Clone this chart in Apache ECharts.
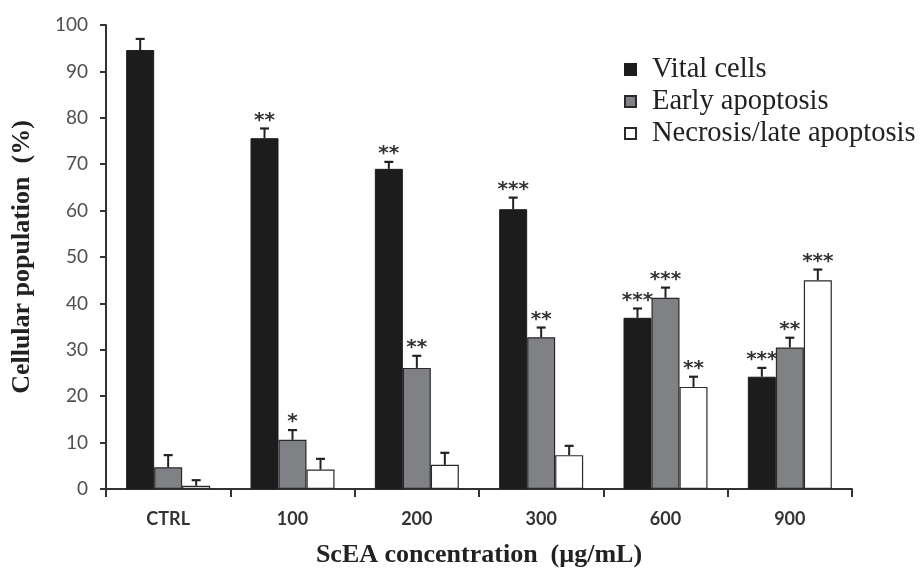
<!DOCTYPE html>
<html>
<head>
<meta charset="utf-8">
<script src="https://cdn.jsdelivr.net/npm/echarts@6/dist/echarts.min.js"></script>
<style>
  html, body { margin: 0; padding: 0; background: #fff; }
  #chart { width: 920px; height: 573px; }
</style>
</head>
<body>
<div id="chart"></div>
<script>
// Cell population by ScEA concentration (mean with upper SD bar and significance marks)
const categories = ['CTRL', '100', '200', '300', '600', '900'];

const vital = [94.6, 75.6, 69.0, 60.3, 36.9, 24.2];
const vitalErr = [2.4, 2.1, 1.5, 2.5, 2.0, 1.9];
const vitalSig = ['', '**', '**', '***', '***', '***'];

const early = [4.7, 10.6, 26.1, 32.7, 41.2, 30.5];
const earlyErr = [2.6, 2.1, 2.6, 2.1, 2.2, 2.1];
const earlySig = ['', '*', '**', '**', '***', '**'];

const necrosis = [0.7, 4.2, 5.2, 7.3, 22.0, 45.0];
const necrosisErr = [1.2, 2.3, 2.6, 2.0, 2.2, 2.3];
const necrosisSig = ['', '', '', '', '**', '***'];

const seriesNames = ['Vital cells', 'Early apoptosis', 'Necrosis/late apoptosis'];
const yTicks = [0, 10, 20, 30, 40, 50, 60, 70, 80, 90, 100];

const BAR_W = 28;
const INK = '#222';

function errorSeries(values, errs, sigs, slot) {
  return {
    type: 'custom',
    z: 5,
    silent: true,
    data: values.map((v, i) => [i, v, errs[i]]),
    renderItem: function (params, api) {
      const i = api.value(0);
      const v = api.value(1);
      const e = api.value(2);
      const base = api.coord([i, v]);
      const top = api.coord([i, v + e]);
      const cx = base[0] + slot * BAR_W;
      const children = [
        { type: 'line', shape: { x1: cx, y1: base[1], x2: cx, y2: top[1] },
          style: { stroke: INK, lineWidth: 2 } },
        { type: 'line', shape: { x1: cx - 4.5, y1: top[1], x2: cx + 4.5, y2: top[1] },
          style: { stroke: INK, lineWidth: 2.2 } }
      ];
      const s = sigs[params.dataIndex];
      if (s) {
        children.push({
          type: 'text',
          style: {
            x: cx, y: top[1] - 8, text: s,
            align: 'center', verticalAlign: 'middle',
            font: 'bold 20px "DejaVu Sans"', fill: '#333'
          }
        });
      }
      return { type: 'group', children: children };
    }
  };
}

const chart = echarts.init(document.getElementById('chart'));
chart.setOption({
  animation: false,
  backgroundColor: '#fff',
  grid: { left: 106, right: 68, top: 25, bottom: 84, outerBoundsMode: 'none', containLabel: false },
  legend: {
    orient: 'vertical',
    left: 619,
    top: 50,
    itemWidth: 11,
    itemHeight: 11,
    itemGap: 3,
    icon: 'rect',
    data: seriesNames,
    textStyle: { fontFamily: '"Liberation Serif"', fontSize: 28.5, lineHeight: 24, color: '#222', padding: [0, 0, 0, 11] }
  },
  xAxis: {
    type: 'category',
    data: categories,
    name: 'ScEA concentration  (\u00b5g/mL)',
    nameLocation: 'middle',
    nameGap: 53,
    nameTextStyle: { fontFamily: '"Liberation Serif"', fontWeight: 'bold', fontSize: 26, color: '#222' },
    axisLine: { lineStyle: { color: '#333', width: 2 } },
    axisTick: { show: true, length: 8, lineStyle: { color: '#333', width: 2 } },
    axisLabel: { margin: 21, fontFamily: 'Lato', fontWeight: 'bold', fontSize: 18, color: '#333' }
  },
  yAxis: {
    type: 'value',
    min: 0,
    max: 100,
    interval: 10,
    name: 'Cellular population  (%)',
    nameLocation: 'middle',
    nameGap: 71,
    nameTextStyle: { fontFamily: '"Liberation Serif"', fontWeight: 'bold', fontSize: 26, color: '#222' },
    splitLine: { show: false },
    axisLine: { show: true, lineStyle: { color: '#333', width: 2 } },
    axisTick: { show: true, length: 6, lineStyle: { color: '#333', width: 2 } },
    axisLabel: {
      margin: 18, fontFamily: 'Lato', fontSize: 19, color: '#4f4f4f',
      formatter: v => (yTicks.indexOf(v) >= 0 ? String(v) : '')
    }
  },
  series: [
    { name: seriesNames[0], type: 'bar', data: vital, barWidth: BAR_W, barGap: '0%',
      itemStyle: { color: '#1c1c1c', borderColor: '#1c1c1c', borderWidth: 1 } },
    { name: seriesNames[1], type: 'bar', data: early, barWidth: BAR_W, barGap: '0%',
      itemStyle: { color: '#808184', borderColor: '#2a2a2a', borderWidth: 1.2 } },
    { name: seriesNames[2], type: 'bar', data: necrosis, barWidth: BAR_W, barGap: '0%',
      itemStyle: { color: '#ffffff', borderColor: '#2a2a2a', borderWidth: 1.2 } },
    errorSeries(vital, vitalErr, vitalSig, -1),
    errorSeries(early, earlyErr, earlySig, 0),
    errorSeries(necrosis, necrosisErr, necrosisSig, 1)
  ]
});
</script>
</body>
</html>
